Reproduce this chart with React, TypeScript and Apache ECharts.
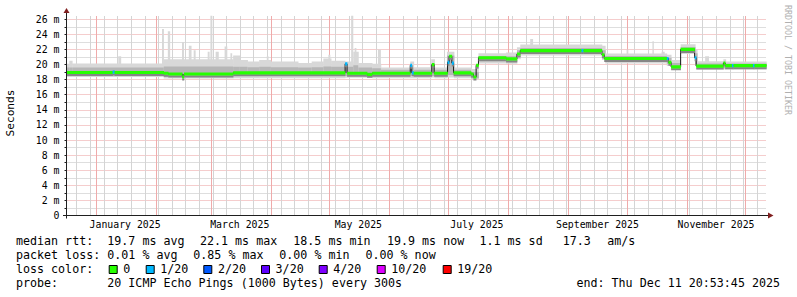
import React, { useEffect, useRef } from 'react';
import * as echarts from 'echarts';

// ---- time frame (days since 1 Jan 2025 00:00) ----
const END_DAY = 344.87; // Thu Dec 11 20:53:45 2025
const START_DAY = END_DAY - 360;
const Y_MAX = 26.5;

// ---- axis / grid positions ----
const monthStarts = [0, 31, 59, 90, 120, 151, 181, 212, 243, 273, 304, 334];
const firstSunday = -10; // Sun 22 Dec 2024
const labelDays = [15, 74, 135, 196, 258, 319];
const labelTexts = ['January 2025', 'March 2025', 'May 2025', 'July 2025', 'September 2025', 'November 2025'];

// ---- median rtt segments (start day, value ms, loss level index) ----
const medStart = [-15.13, 8.6, 9.6, 34.9, 37.2, 44.4, 45.3, 70.6, 128.2, 129.2, 139.5, 142.1, 161.7, 162.5, 163.5, 172.8, 174.0, 180.9, 181.7, 183.1, 184.0, 193.0, 194.2, 195.6, 196.8, 211.0, 216.6, 218.3, 249.8, 250.8, 260.3, 261.5, 293.7, 294.5, 295.9, 300.8, 308.0, 308.8, 322.8, 323.7, 327.2, 328.0, 338.0, 338.8];
const medValue = [18.95, 19.0, 18.95, 18.85, 18.75, 18.35, 18.75, 18.9, 20.1, 18.85, 18.7, 18.85, 19.9, 18.9, 18.85, 20.0, 18.85, 20.3, 21.1, 20.2, 18.9, 18.75, 18.35, 19.9, 20.9, 20.75, 21.4, 21.85, 21.85, 21.85, 21.3, 20.8, 20.8, 20.3, 19.7, 22.0, 20.9, 19.8, 20.2, 19.85, 19.85, 19.85, 19.85, 19.85];
const medLoss = [0, 1, 0, 0, 0, 0, 0, 0, 1, 0, 0, 0, 1, 1, 0, 0, 0, 1, 0, 1, 0, 0, 0, 0, 0, 0, 0, 0, 1, 0, 0, 0, 1, 0, 0, 0, 1, 0, 0, 0, 1, 0, 1, 0];

// ---- smoke bins (start day, min, inner low, inner high, max) ms ----
const smokeStart = [-15.13, -13.7, -12.2, 34.9, 70.6, 74.0, 78.0, 84.0, 90.0, 104.0, 111.0, 117.0, 121.0, 128.2, 132.4, 135.0, 142.1, 146.6, 161.7, 163.5, 172.5, 174.2, 180.6, 184.2, 193.0, 196.8, 211.0, 216.6, 218.3, 260.3, 262.0, 293.7, 295.9, 300.8, 308.3, 309.3, 322.8, 324.0];
const smokeMin = [18.35, 18.35, 18.35, 18.15, 18.2, 18.2, 18.2, 18.2, 18.2, 18.2, 18.2, 18.2, 18.2, 18.25, 18.25, 18.25, 18.2, 18.2, 18.2, 18.2, 18.3, 18.2, 18.3, 18.2, 18.05, 20.15, 20.1, 20.7, 21.2, 20.6, 20.15, 19.8, 19.4, 21.4, 19.8, 19.35, 19.35, 19.35];
const smokeLo = [18.55, 18.55, 18.55, 18.4, 18.5, 18.5, 18.5, 18.5, 18.5, 18.5, 18.5, 18.5, 18.5, 18.5, 18.5, 18.5, 18.45, 18.45, 18.5, 18.45, 18.5, 18.45, 18.6, 18.45, 18.2, 20.45, 20.4, 21.0, 21.45, 21.0, 20.4, 20.1, 19.5, 21.6, 20.0, 19.5, 19.5, 19.5];
const smokeHi = [19.6, 19.6, 19.6, 19.75, 19.7, 19.7, 19.65, 19.7, 19.65, 19.6, 19.65, 19.75, 19.7, 19.7, 19.9, 19.6, 19.5, 19.3, 19.6, 19.3, 20.0, 19.3, 21.2, 19.3, 19.0, 21.15, 21.1, 21.9, 22.2, 21.9, 21.15, 20.9, 20.2, 22.3, 21.5, 20.15, 20.35, 20.15];
const smokeMax = [20.1, 20.5, 20.15, 20.7, 21.2, 20.6, 20.4, 20.6, 20.4, 20.2, 20.4, 20.8, 20.5, 20.4, 21.7, 20.2, 20.1, 19.6, 20.4, 19.65, 20.7, 19.6, 21.7, 19.6, 19.4, 21.5, 21.6, 22.3, 22.65, 22.5, 21.45, 21.3, 20.6, 22.7, 22.0, 20.45, 20.7, 20.4];

// ---- single-ping spikes (start day, end day, base ms, top ms) ----
const spikeStart = [11.5, 34.0, 37.0, 44.3, 47.8, 50.3, 57.5, 58.9, 61.6, 66.2, 69.2, 87.9, 119.6, 131.3, 133.1, 145.1, 223.4, 273.0, 286.3, 291.0, 313.4];
const spikeEnd = [13.0, 35.0, 38.2, 45.3, 49.2, 51.3, 58.5, 59.9, 63.2, 67.6, 70.1, 88.8, 120.6, 132.4, 134.0, 146.6, 224.9, 273.9, 287.0, 292.6, 315.4];
const spikeBase = [19.5, 19.5, 19.5, 19.5, 19.5, 19.5, 19.5, 19.5, 19.5, 19.5, 19.5, 19.5, 19.5, 19.5, 19.5, 19.5, 22.0, 21.0, 21.0, 21.0, 20.0];
const spikeTop = [21.1, 24.7, 24.4, 23.0, 22.5, 21.9, 21.7, 26.5, 21.7, 22.4, 21.5, 21.1, 21.3, 26.5, 22.2, 22.0, 23.4, 22.0, 23.1, 21.7, 21.1];

// ---- legend ----
const lossColors = ['#26ff00', '#00b8ff', '#0059ff', '#5e00ff', '#7e00ff', '#dd00ff', '#ff0000'];
const lossLabels = ['0', '1/20', '2/20', '3/20', '4/20', '10/20', '19/20'];
const rttItems = ['19.7 ms avg', '22.1 ms max', '18.5 ms min', '19.9 ms now', '1.1 ms sd', '17.3', 'am/s'];
const lossItems = ['0.01 % avg', '0.85 % max', '0.00 % min', '0.00 % now'];
const probeText = '20 ICMP Echo Pings (1000 Bytes) every 300s';
const endText = 'end: Thu Dec 11 20:53:45 2025';

const MONO = '"DejaVu Sans Mono", monospace';
const GRID_C = '#bdbdbd';
const MGRID_C = '#eb9a9a';
const VGRID_C = '#d4d4d4';
const VMGRID_C = '#efabab';

export default function App() {
  const ref = useRef<HTMLDivElement>(null);
  useEffect(() => {
    if (!ref.current) return;
    document.body.style.margin = '0';
    const chart = echarts.init(ref.current, null, { renderer: 'svg' });

    const weekLines: number[] = [];
    for (let d = firstSunday; d < END_DAY; d += 7) weekLines.push(d);

    const medData = medStart.map((s, i) => [s, i + 1 < medStart.length ? medStart[i + 1] : END_DAY, medValue[i], medLoss[i]]);
    const medLine = medStart.map((s, i) => [s, medValue[i]]);
    medLine.push([END_DAY, medValue[medValue.length - 1]]);
    const smokeData = smokeStart.map((s, i) => [s, i + 1 < smokeStart.length ? smokeStart[i + 1] : END_DAY, smokeMin[i], smokeLo[i], smokeHi[i], smokeMax[i]]);
    const spikeData = spikeStart.map((s, i) => [s, spikeEnd[i], spikeBase[i], spikeTop[i]]);
    const vGridData = [
      ...weekLines.filter((d) => !monthStarts.includes(d)).map((d) => [d, 0]),
      ...monthStarts.map((d) => [d, 1]),
    ];

    const yColors: string[] = [];
    for (let i = 0; i <= 27; i++) yColors.push(i % 2 === 0 ? MGRID_C : GRID_C);

    const text = (t: string, x: number, y: number, extra: any = {}) => ({
      type: 'text', x, y, z: 100,
      style: { text: t, fill: '#000', fontFamily: MONO, fontSize: 11.67, verticalAlign: 'middle', align: 'left', ...extra },
    });

    const seconds: any = text('Seconds', 10, 113, { align: 'center', fontSize: 11.2 });
    seconds.rotation = Math.PI / 2;
    const credit: any = text('RRDTOOL / TOBI OETIKER', 787.5, 60, { align: 'center', fontSize: 8.3, fill: '#b0b0b0' });
    credit.rotation = -Math.PI / 2;

    const graphic: any[] = [
      { type: 'line', z: 100, shape: { x1: 66.5, y1: 218.5, x2: 66.5, y2: 12 }, style: { stroke: '#1f1f1f', lineWidth: 1 } },
      { type: 'line', z: 100, shape: { x1: 63, y1: 215.5, x2: 769, y2: 215.5 }, style: { stroke: '#1f1f1f', lineWidth: 1 } },
      { type: 'polygon', z: 101, shape: { points: [[63.5, 13], [69.5, 13], [66.5, 8]] }, style: { fill: '#801f1f' } },
      { type: 'polygon', z: 101, shape: { points: [[768, 212.5], [768, 218.5], [773.5, 215.5]] }, style: { fill: '#801f1f' } },
      seconds,
      credit,
      text('median rtt:', 16, 241.3),
      text('packet loss:', 16, 255),
      text('loss color:', 16, 269.3),
      text('probe:', 16, 283),
      text(probeText, 107.3, 283),
      text(endText, 780, 283, { align: 'right' }),
    ];
    const rttX = [107.3, 200, 293.3, 387, 479.5, 562.7, 607.3];
    rttItems.forEach((t, i) => graphic.push(text(t, rttX[i], 241.3)));
    const lossX = [107.3, 193.3, 279.3, 365.5];
    lossItems.forEach((t, i) => graphic.push(text(t, lossX[i], 255)));
    const boxX = [108.7, 145.7, 203.3, 261, 318.7, 376.7, 442.7];
    lossColors.forEach((c, i) => {
      graphic.push({ type: 'rect', z: 100, shape: { x: boxX[i] + 0.5, y: 265.5, width: 8, height: 8 }, style: { fill: c, stroke: '#000', lineWidth: 1 } });
      graphic.push(text(lossLabels[i], boxX[i] + 14.6, 269.3));
    });

    chart.setOption({
      animation: false,
      backgroundColor: '#ffffff',
      grid: { left: 66.5, right: 30.7, top: 15.5, bottom: 81.5, containLabel: false },
      xAxis: {
        type: 'value', min: START_DAY, max: END_DAY,
        axisLine: { show: false, onZero: false }, axisTick: { show: false }, splitLine: { show: false },
        axisLabel: {
          customValues: labelDays,
          formatter: (v: number) => { const i = labelDays.indexOf(v); return i >= 0 ? labelTexts[i] : ''; },
          fontFamily: MONO, fontSize: 9.83, color: '#000', margin: 4,
        },
      },
      yAxis: {
        type: 'value', min: 0, max: Y_MAX, interval: 1,
        axisLine: { show: false, onZero: false },
        axisTick: { show: true, length: 2, lineStyle: { color: '#1f1f1f' } },
        axisLabel: {
          formatter: (v: number) => (Math.abs(v % 2) < 1e-9 ? (v === 0 ? '0' : `${v} m`) : ''),
          fontFamily: MONO, fontSize: 9.83, color: '#000', margin: 7,
          showMaxLabel: false,
        },
        splitLine: { show: true, showMaxLine: false, lineStyle: { color: yColors, type: [1, 1], width: 1 } },
      },
      graphic,
      series: [
        {
          type: 'custom', name: 'vgrid', z: 1, silent: true, clip: true,
          data: vGridData, encode: { x: 0, y: 1 },
          renderItem: (params: any, api: any) => {
            const d = api.value(0);
            const top = api.coord([d, Y_MAX]);
            const bot = api.coord([d, 0]);
            const x = Math.round(top[0]);
            return { type: 'rect', shape: { x, y: Math.round(top[1]), width: 1, height: Math.round(bot[1]) - Math.round(top[1]) }, style: { fill: api.value(1) ? VMGRID_C : VGRID_C } };
          },
        },
        {
          type: 'custom', name: 'spikes', z: 2, silent: true, clip: true,
          data: spikeData, encode: { x: [0, 1], y: [2, 3] },
          renderItem: (params: any, api: any) => {
            const a = api.coord([api.value(0), api.value(3)]);
            const b = api.coord([api.value(1), api.value(2)]);
            return { type: 'rect', shape: { x: a[0], y: a[1], width: b[0] - a[0], height: b[1] - a[1] }, style: { fill: '#d8d8d8' } };
          },
        },
        {
          type: 'custom', name: 'smoke', z: 3, silent: true, clip: true,
          data: smokeData, encode: { x: [0, 1], y: [2, 5] },
          renderItem: (params: any, api: any) => {
            const s = api.value(0), e = api.value(1);
            const a = api.coord([s, api.value(5)]);
            const b = api.coord([e, api.value(2)]);
            const c = api.coord([s, api.value(4)]);
            const d = api.coord([e, api.value(3)]);
            return {
              type: 'group', children: [
                { type: 'rect', shape: { x: a[0], y: a[1], width: b[0] - a[0] + 0.4, height: b[1] - a[1] }, style: { fill: '#d8d8d8' } },
                { type: 'rect', shape: { x: c[0], y: c[1], width: d[0] - c[0] + 0.4, height: d[1] - c[1] }, style: { fill: '#b6b6b6' } },
              ],
            };
          },
        },
        {
          type: 'line', name: 'median', z: 4, step: 'end', symbol: 'none', silent: true,
          data: medLine, lineStyle: { color: '#151515', width: 1 },
        },
        {
          type: 'custom', name: 'medianBand', z: 5, silent: true, clip: true,
          data: medData, encode: { x: [0, 1], y: 2 },
          renderItem: (params: any, api: any) => {
            const a = api.coord([api.value(0), api.value(2)]);
            const b = api.coord([api.value(1), api.value(2)]);
            const w = b[0] - a[0] + 0.3;
            return {
              type: 'group', children: [
                { type: 'rect', shape: { x: a[0], y: a[1] + 1.5, width: w, height: 2 }, style: { fill: '#868686' } },
                { type: 'rect', shape: { x: a[0], y: a[1] - 1.6, width: w, height: 3.2 }, style: { fill: lossColors[api.value(3)] } },
              ],
            };
          },
        },
      ],
    });
    return () => chart.dispose();
  }, []);
  return <div ref={ref} style={{ width: 797, height: 297 }} />;
}
